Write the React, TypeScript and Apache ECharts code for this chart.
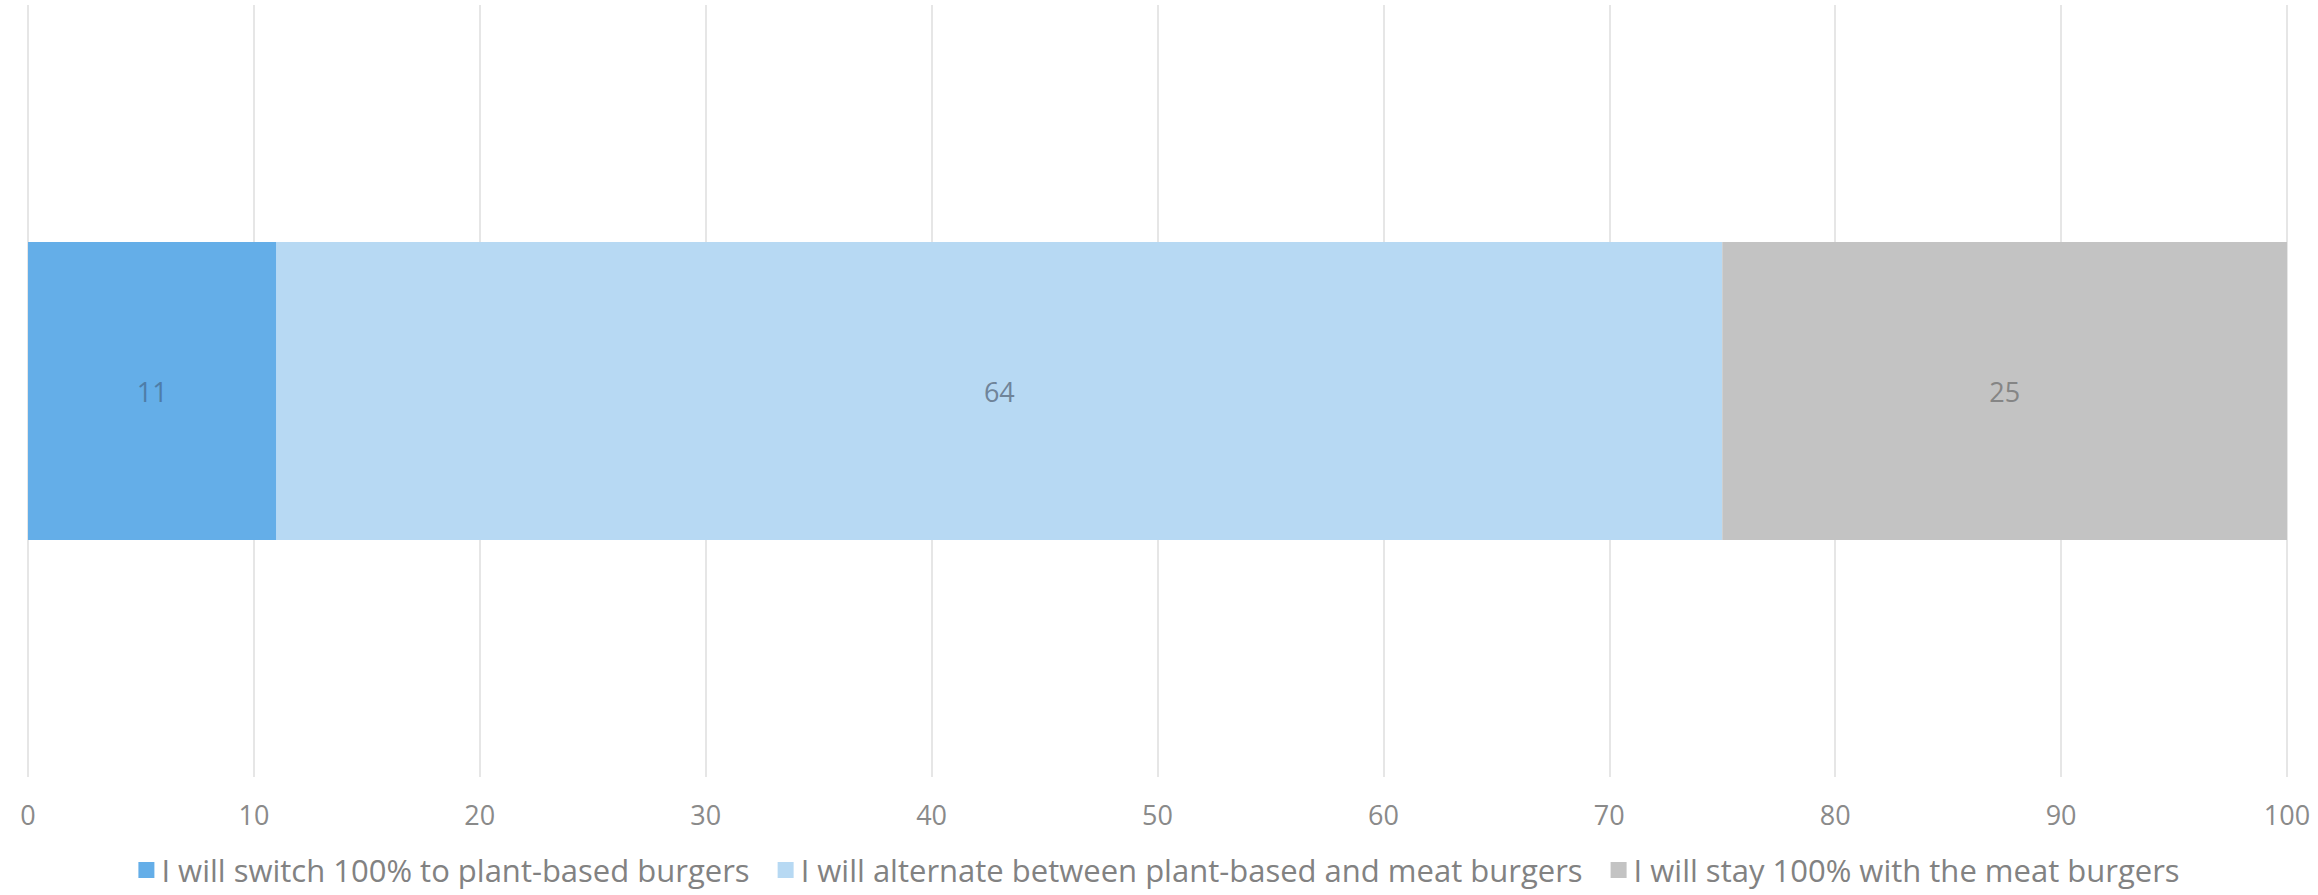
import React, { useEffect, useRef } from "react";
import * as echarts from "echarts";

// Survey responses (percent of respondents)
const categories = ["Response"];
const seriesNames = [
  "I will switch 100% to plant-based burgers",
  "I will alternate between plant-based and meat burgers",
  "I will stay 100% with the meat burgers",
];
const switchValues = [11];
const alternateValues = [64];
const stayValues = [25];
const seriesColors = ["#64AEE8", "#B7D9F3", "#C3C3C3"];
const labelColors = ["#4E7DA8", "#6F8499", "#858585"];

export default function App() {
  const ref = useRef<HTMLDivElement>(null);

  useEffect(() => {
    if (!ref.current) return;
    const chart = echarts.init(ref.current, undefined, { renderer: "svg" });
    const valueSets = [switchValues, alternateValues, stayValues];
    chart.setOption({
      animation: false,
      backgroundColor: "#ffffff",
      grid: { left: 28, right: 31, top: 5, bottom: 118, containLabel: false },
      xAxis: {
        type: "value",
        min: 0,
        max: 100,
        interval: 10,
        axisLine: { show: false },
        axisTick: { show: false },
        axisLabel: {
          color: "#8a8a8a",
          fontSize: 27,
          fontFamily: "Open Sans",
          margin: 24,
        },
        splitLine: { show: true, lineStyle: { color: "#e6e6e6", width: 2 } },
      },
      yAxis: {
        type: "category",
        data: categories,
        axisLine: { show: false },
        axisTick: { show: false },
        axisLabel: { show: false },
      },
      legend: {
        top: 853,
        left: "center",
        padding: 0,
        icon: "rect",
        itemWidth: 16,
        itemHeight: 16,
        itemGap: 28,
        textStyle: {
          color: "#828282",
          fontSize: 31,
          fontFamily: "Open Sans",
          lineHeight: 34,
          padding: [0, 0, 0, 2],
        },
        data: seriesNames,
      },
      series: seriesNames.map((name, i) => ({
        name,
        type: "bar",
        stack: "total",
        barWidth: 298,
        data: valueSets[i],
        itemStyle: { color: seriesColors[i] },
        label: {
          show: true,
          position: "inside",
          color: labelColors[i],
          fontSize: 27,
          fontFamily: "Open Sans",
        },
      })),
    });
    return () => chart.dispose();
  }, []);

  return (
    <div
      ref={ref}
      style={{ position: "absolute", left: 0, top: 0, width: 2318, height: 895 }}
    />
  );
}
